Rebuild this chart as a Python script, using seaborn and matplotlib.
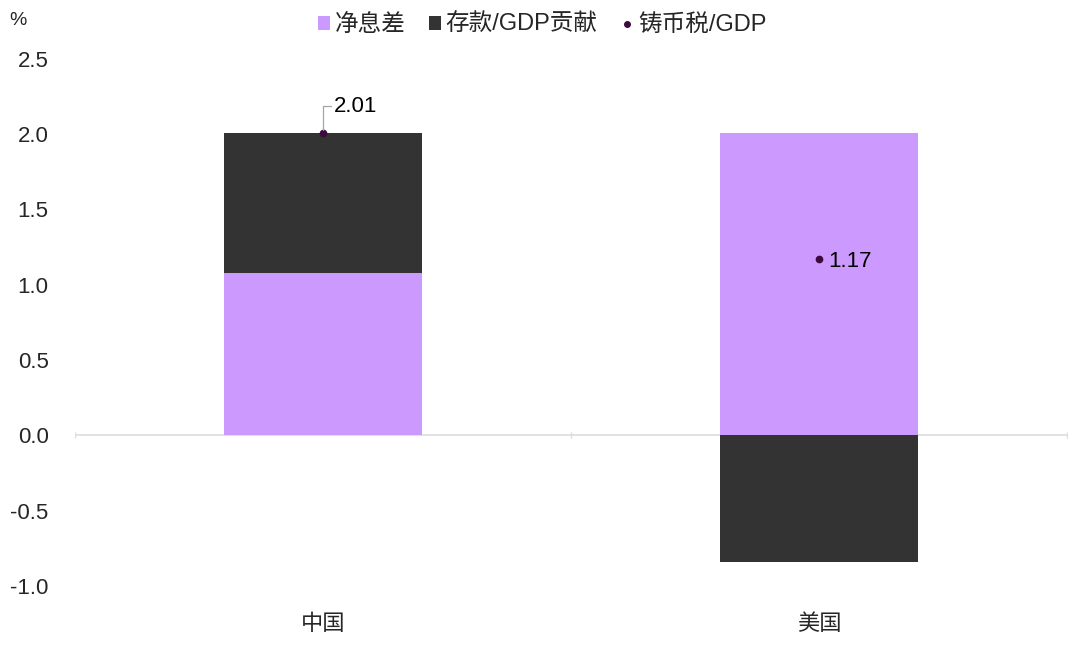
import pandas as pd
import seaborn as sns
import matplotlib.pyplot as plt
from matplotlib.patches import Patch
from matplotlib.lines import Line2D

countries = ["中国", "美国"]
nim = [1.08, 2.01]             # 净息差
deposit = [0.93, -0.84]        # 存款/GDP贡献
seigniorage = [2.01, 1.17]     # 铸币税/GDP
series_names = ["净息差", "存款/GDP贡献", "铸币税/GDP"]
yticks = [-1.0, -0.5, 0.0, 0.5, 1.0, 1.5, 2.0, 2.5]

purple = "#CC99FF"
dark = "#333333"
dot_color = "#3D0A3D"

sns.set_style("white")
plt.rcParams['font.family'] = ['Liberation Sans', 'Noto Sans CJK SC', 'DejaVu Sans']
plt.rcParams['axes.unicode_minus'] = False

df = pd.DataFrame({"country": countries, "nim": nim, "deposit": deposit, "seig": seigniorage})
# stacked: dark bar drawn to its stacked end, purple drawn over it from zero
df["dark_end"] = [n + d if d > 0 else d for n, d in zip(df["nim"], df["deposit"])]

fig = plt.figure(figsize=(10.8, 6.47), dpi=100)
ax = fig.add_axes([0.0694, 0.0943, 0.9186, 0.8147])

sns.barplot(data=df, x="country", y="dark_end", color=dark, width=0.4, saturation=1, ax=ax, linewidth=0)
sns.barplot(data=df, x="country", y="nim", color=purple, width=0.4, saturation=1, ax=ax, linewidth=0)
sns.pointplot(data=df, x="country", y="seig", color=dot_color, linestyle="none", markers="o",
              markersize=3.5, errorbar=None, ax=ax)

ax.set_xlim(-0.5, 1.5)
ax.set_ylim(-1.0, 2.5)
ax.set_yticks(yticks)
ax.set_yticklabels([f"{v:.1f}" for v in yticks])
ax.set_xlabel("")
ax.set_ylabel("")
for s in ax.spines.values():
    s.set_visible(False)
ax.axhline(0, color="#DDDDDD", lw=1.2, zorder=0.5)
ax.plot([-0.5, 0.5, 1.5], [0, 0, 0], ls="none", marker="|", ms=5, color="#DDDDDD", zorder=0.5)
ax.tick_params(axis="y", length=0, pad=19, labelsize=16)
ax.tick_params(axis="x", length=0, pad=20, labelsize=16)

# data labels for seigniorage
ax.annotate(f"{seigniorage[0]:.2f}", xy=(0, seigniorage[0]), xytext=(8, 19), textcoords="offset points",
            ha="left", va="center", fontsize=16, color="black",
            arrowprops=dict(arrowstyle="-", color="#A6A6A6", lw=0.9, shrinkA=0, shrinkB=2,
                            connectionstyle="angle,angleA=0,angleB=90,rad=0", relpos=(0, 0.5)))
ax.annotate(f"{seigniorage[1]:.2f}", xy=(1, seigniorage[1]), xytext=(7, -1.5), textcoords="offset points",
            ha="left", va="center", fontsize=16, color="black")

fig.text(0.009, 0.968, "%", fontsize=14, ha="left", va="center")

handles = [
    Patch(facecolor=purple, edgecolor="none"),
    Patch(facecolor=dark, edgecolor="none"),
    Line2D([], [], ls="none", marker="o", ms=4, color=dot_color),
]
fig.legend(handles, series_names, loc="center", bbox_to_anchor=(0.502, 0.961), ncol=3, frameon=False,
           fontsize=17, handlelength=0.5, handleheight=0.5, handletextpad=0.2, columnspacing=1.0)

fig.savefig("out.png", dpi=100)
